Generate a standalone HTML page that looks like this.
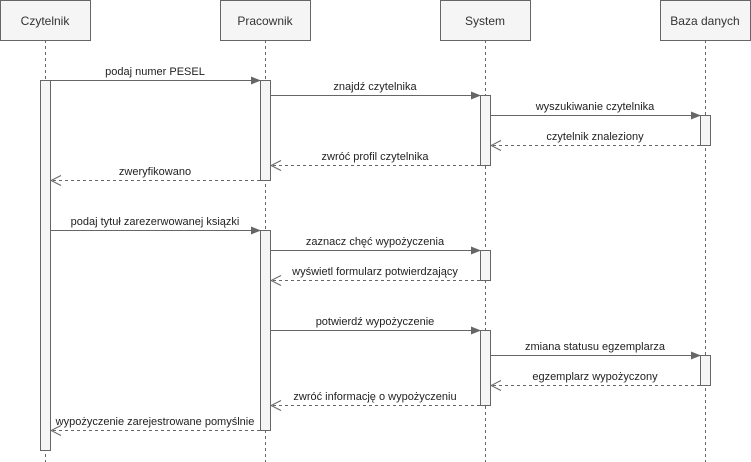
<!DOCTYPE html>
<html><head><meta charset="utf-8"><style>body{margin:0;background:#fff}svg{display:block}</style></head><body>
<svg width="751" height="462" xmlns="http://www.w3.org/2000/svg" font-family="Liberation Sans, sans-serif" font-size="11">
<defs>
<marker id="f" markerWidth="10" markerHeight="8" refX="9" refY="4" orient="auto" markerUnits="userSpaceOnUse"><path d="M0,0 L10,4 L0,8 Z" fill="#666"/></marker>
<marker id="o" markerWidth="12" markerHeight="12" refX="11" refY="6" orient="auto" markerUnits="userSpaceOnUse"><path d="M1,1 L11,6 L1,11" fill="none" stroke="#666"/></marker>
</defs>
<g stroke="#666" stroke-dasharray="3,3" fill="none">
<line x1="45.5" y1="40" x2="45.5" y2="462"/><line x1="265.5" y1="40" x2="265.5" y2="462"/><line x1="485.5" y1="40" x2="485.5" y2="462"/><line x1="705.5" y1="40" x2="705.5" y2="462"/>
</g>
<g fill="#f5f5f5" stroke="#666">
<rect x="0.5" y="0.5" width="90" height="40"/><rect x="220.5" y="0.5" width="90" height="40"/><rect x="440.5" y="0.5" width="90" height="40"/><rect x="660.5" y="0.5" width="90" height="40"/>
<rect x="40.5" y="80.5" width="10" height="370"/>
<rect x="260.5" y="80.5" width="10" height="100"/><rect x="260.5" y="230.5" width="10" height="200"/>
<rect x="480.5" y="95.5" width="10" height="70"/><rect x="480.5" y="250.5" width="10" height="30"/><rect x="480.5" y="330.5" width="10" height="75"/>
<rect x="700.5" y="115.5" width="10" height="30"/><rect x="700.5" y="355.5" width="10" height="30"/>
</g>
<g fill="#333" text-anchor="middle" font-size="12">
<text x="45" y="25">Czytelnik</text><text x="265" y="25">Pracownik</text><text x="485" y="25">System</text><text x="705" y="25">Baza danych</text>
</g>
<g stroke="#666" fill="none">
<line x1="50" y1="80.5" x2="260" y2="80.5" marker-end="url(#f)"/>
<line x1="270" y1="95.5" x2="480" y2="95.5" marker-end="url(#f)"/>
<line x1="490" y1="115.5" x2="700" y2="115.5" marker-end="url(#f)"/>
<line x1="50" y1="230.5" x2="260" y2="230.5" marker-end="url(#f)"/>
<line x1="270" y1="250.5" x2="480" y2="250.5" marker-end="url(#f)"/>
<line x1="270" y1="330.5" x2="480" y2="330.5" marker-end="url(#f)"/>
<line x1="490" y1="355.5" x2="700" y2="355.5" marker-end="url(#f)"/>
</g>
<g stroke="#666" fill="none" stroke-dasharray="3,3">
<line x1="700" y1="145.5" x2="491" y2="145.5" marker-end="url(#o)"/>
<line x1="480" y1="165.5" x2="271" y2="165.5" marker-end="url(#o)"/>
<line x1="260" y1="180.5" x2="51" y2="180.5" marker-end="url(#o)"/>
<line x1="480" y1="280.5" x2="271" y2="280.5" marker-end="url(#o)"/>
<line x1="700" y1="385.5" x2="491" y2="385.5" marker-end="url(#o)"/>
<line x1="480" y1="405.5" x2="271" y2="405.5" marker-end="url(#o)"/>
<line x1="260" y1="430.5" x2="51" y2="430.5" marker-end="url(#o)"/>
</g>
<g fill="#222" text-anchor="middle">
<text x="155" y="75">podaj numer PESEL</text>
<text x="375" y="90">znajdź czytelnika</text>
<text x="595" y="110">wyszukiwanie czytelnika</text>
<text x="595" y="140">czytelnik znaleziony</text>
<text x="375" y="160">zwróć profil czytelnika</text>
<text x="155" y="175">zweryfikowano</text>
<text x="155" y="225">podaj tytuł zarezerwowanej ksiązki</text>
<text x="375" y="245">zaznacz chęć wypożyczenia</text>
<text x="375" y="275">wyświetl formularz potwierdzający</text>
<text x="375" y="325">potwierdź wypożyczenie</text>
<text x="595" y="350">zmiana statusu egzemplarza</text>
<text x="595" y="380">egzemplarz wypożyczony</text>
<text x="375" y="400">zwróć informację o wypożyczeniu</text>
<text x="155" y="425">wypożyczenie zarejestrowane pomyślnie</text>
</g>
</svg>
</body></html>
